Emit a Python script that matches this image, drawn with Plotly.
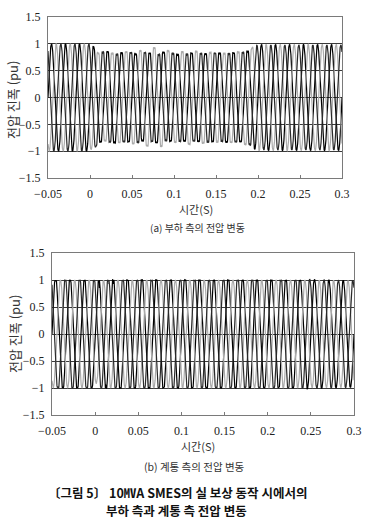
import numpy as np
import plotly.graph_objects as go

# ---------------- data ----------------
freq_hz = 60.0
t_start, t_end, t_step = -0.05, 0.30, 0.0001
phase_deg = [0.0, -120.0, 120.0]
phase_colors = ["#000000", "#ababab", "#2a2a2a"]

# (a) load side: peak amplitude envelope of each phase
load_knots = [-0.05, -0.001, 0.004, 0.012, 0.02, 0.03, 0.045, 0.06, 0.075, 0.085,
              0.10, 0.12, 0.14, 0.16, 0.18, 0.19, 0.197, 0.30]
load_env_a = [1.00, 1.00, 0.97, 0.85, 0.88, 0.87, 0.85, 0.83, 0.86, 0.88,
              0.82, 0.85, 0.84, 0.86, 0.85, 0.90, 0.99, 0.99]
load_env_b = [1.00, 1.00, 0.95, 0.82, 0.84, 0.86, 0.88, 0.90, 0.96, 0.94,
              0.86, 0.90, 0.87, 0.85, 0.88, 0.93, 0.99, 0.99]
load_env_c = [1.00, 1.00, 0.98, 0.88, 0.86, 0.83, 0.86, 0.87, 0.84, 0.82,
              0.85, 0.83, 0.86, 0.84, 0.86, 0.90, 0.98, 0.98]
load_ripple_knots = [-0.05, 0.0, 0.01, 0.19, 0.2, 0.3]
load_ripple_amp = [0.0, 0.0, 0.04, 0.04, 0.0, 0.0]

# (b) system side
sys_knots = [-0.05, -0.002, 0.002, 0.01, 0.24, 0.30]
sys_env_a = [1.02, 1.02, 1.00, 1.03, 1.02, 0.99]
sys_env_b = [1.00, 1.00, 0.90, 1.00, 1.00, 0.99]
sys_env_c = [1.02, 1.02, 1.01, 1.02, 1.02, 0.99]
sys_ripple_knots = [-0.05, 0.235, 0.245, 0.30]
sys_ripple_amp = [0.035, 0.035, 0.0, 0.0]
sys_spike_times = [0.005, 0.008, 0.012, 0.016, 0.021]
sys_spike_vals = [-0.13, 0.10, 0.07, -0.08, -0.07]

ripple_harmonic = 7
y_ticks = [-1.5, -1.0, -0.5, 0.0, 0.5, 1.0, 1.5]
y_labels = ["\u22121.5", "\u22121", "\u22120.5", "0", "0.5", "1", "1.5"]
x_ticks = [-0.05, 0.0, 0.05, 0.1, 0.15, 0.2, 0.25, 0.3]
x_labels = ["\u22120.05", "0", "0.05", "0.1", "0.15", "0.2", "0.25", "0.3"]

y_title = "전압 진폭 (pu)"
x_title = "시간(S)"
cap_a = "(a) 부하 측의 전압 변동"
cap_b = "(b) 계통 측의 전압 변동"
cap_main_1 = "〔그림 5〕 10㎹A SMES의 실 보상 동작 시에서의"
cap_main_2 = "부하 측과 계통 측 전압 변동"

# ---------------- build waveforms ----------------
t = np.arange(t_start, t_end + t_step / 2, t_step)
w = 2 * np.pi * freq_hz


def wave(env_knots, env_vals, ph, rip_knots, rip_vals):
    env = np.interp(t, env_knots, env_vals)
    rip = np.interp(t, rip_knots, rip_vals)
    ang = w * t + np.deg2rad(ph)
    return env * np.sin(ang) + rip * np.sin(ripple_harmonic * ang)


load_waves = [wave(load_knots, e, p, load_ripple_knots, load_ripple_amp)
              for e, p in zip([load_env_a, load_env_b, load_env_c], phase_deg)]
sys_waves = []
for i, (e, p) in enumerate(zip([sys_env_a, sys_env_b, sys_env_c], phase_deg)):
    rip = sys_ripple_amp if i != 1 else [0.0] * len(sys_ripple_amp)
    v = wave(sys_knots, e, p, sys_ripple_knots, rip)
    if i != 1:
        for ts, sv in zip(sys_spike_times, sys_spike_vals):
            idx = int(round((ts - t_start) / t_step)) + i * 20
            if 0 <= idx < len(v):
                v[idx] += sv * (1 if i == 0 else -1)
    sys_waves.append(v)

fig = go.Figure()
for v, c in zip(load_waves, phase_colors):
    fig.add_trace(go.Scatter(x=t, y=v, mode="lines", line=dict(color=c, width=1.2),
                             xaxis="x", yaxis="y", showlegend=False, hoverinfo="skip"))
for v, c in zip(sys_waves, phase_colors):
    fig.add_trace(go.Scatter(x=t, y=v, mode="lines", line=dict(color=c, width=1.2),
                             xaxis="x2", yaxis="y2", showlegend=False, hoverinfo="skip"))

W, H = 371, 529


def px(xp):
    return xp / W


def py(yp):
    return 1 - yp / H


tick_font = dict(family="Liberation Serif", size=12, color="#222")
xa = dict(range=[-0.05, 0.3], tickvals=x_ticks, ticktext=x_labels, showgrid=False,
          zeroline=False, showline=True, mirror=True, linecolor="#7a7a7a", linewidth=1,
          ticks="inside", ticklen=3, tickcolor="#7a7a7a", tickfont=tick_font,
          ticklabelstandoff=5, automargin=False)
ya = dict(range=[-1.5, 1.5], tickvals=y_ticks, ticktext=y_labels, showgrid=True,
          gridcolor="#3a3a3a", gridwidth=1, zeroline=False, showline=True, mirror=True,
          linecolor="#7a7a7a", linewidth=1, ticks="", tickfont=tick_font,
          ticklabelstandoff=4, automargin=False)

fig.update_layout(
    width=W, height=H, margin=dict(l=0, r=0, t=0, b=0, pad=0, autoexpand=False),
    showlegend=False,
    paper_bgcolor="white", plot_bgcolor="white",
    xaxis=dict(xa, domain=[px(48), px(342)], anchor="y"),
    yaxis=dict(ya, domain=[py(178), py(17)], anchor="x"),
    xaxis2=dict(xa, domain=[px(52), px(354)], anchor="y2"),
    yaxis2=dict(ya, domain=[py(415), py(253)], anchor="x2"),
)

kfont = "Noto Sans CJK KR"
ann = [
    (y_title, 12, 100, 13, -90, "#333", False),
    (x_title, 196, 209, 11, 0, "#333", False),
    (cap_a, 197, 227, 10, 0, "#333", False),
    (y_title, 14, 334, 13, -90, "#333", False),
    (x_title, 198, 446, 11, 0, "#333", False),
    (cap_b, 195, 466, 10.5, 0, "#333", False),
    (cap_main_1, 177, 492, 12.5, 0, "#111", True),
    (cap_main_2, 176, 510, 12.5, 0, "#111", True),
]
for text, x0, y0, size, ang, col, bold in ann:
    fig.add_annotation(text=text, x=px(x0), y=py(y0), xref="paper", yref="paper",
                       xanchor="center", yanchor="middle", showarrow=False,
                       textangle=ang,
                       font=dict(family=kfont, size=size, color=col,
                                 weight="bold" if bold else "normal"))

fig.write_html("out.html", config={"displayModeBar": False},
               post_script="document.body.style.margin='0';"
                           "document.body.style.overflow='hidden';")
